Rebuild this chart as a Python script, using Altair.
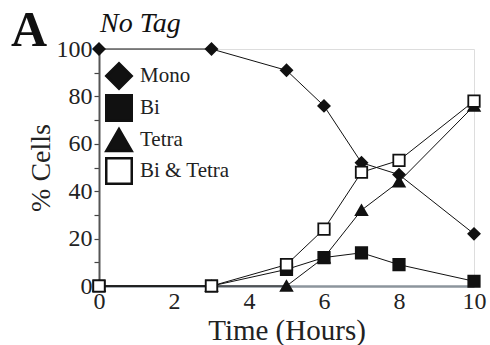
import altair as alt
import pandas as pd

# ---- data ----
hours = [0, 3, 5, 6, 7, 8, 10]
mono = [100, 100, 91, 76, 52, 47, 22]
bi = [0, 0, 7, 12, 14, 9, 2]
tetra = [0, 0, 0, 12, 32, 44, 76]
bi_tetra = [0, 0, 9, 24, 48, 53, 78]
series_names = ["Mono", "Bi", "Tetra", "Bi & Tetra"]
x_ticks = [0, 2, 4, 6, 8, 10]
y_ticks = [0, 10, 20, 30, 40, 50, 60, 70, 80, 90, 100]

rows = []
for name, vals in zip(series_names, [mono, bi, tetra, bi_tetra]):
    for h, v in zip(hours, vals):
        rows.append({"Time": h, "Pct": v, "Series": name, "order": series_names.index(name)})
df = pd.DataFrame(rows)

FONT = "Liberation Serif, 'Times New Roman', 'DejaVu Serif', serif"
GRAY = "#8c959c"

x_enc = alt.X("Time:Q", scale=alt.Scale(domain=[0, 10], nice=False, zero=False),
              axis=alt.Axis(values=x_ticks, title="Time (Hours)", grid=False, ticks=False,
                            domainColor=GRAY, domainWidth=2.5, labelFontSize=24,
                            labelPadding=3, labelFont=FONT, titleFont=FONT,
                            titleFontSize=29, titleFontWeight="normal", titlePadding=3,
                            labelColor="#222", titleColor="#222", labelFlush=False))
y_enc = alt.Y("Pct:Q", scale=alt.Scale(domain=[0, 100], nice=False),
              axis=alt.Axis(values=y_ticks, title="% Cells", grid=False,
                            labelExpr="datum.value % 20 == 0 ? datum.label : ''",
                            tickSize=5, tickColor="#444", tickWidth=1.2,
                            domainColor="#555", domainWidth=2, labelFontSize=24,
                            labelPadding=2, labelFont=FONT, titleFont=FONT,
                            titleFontSize=28, titleFontWeight="normal", titlePadding=1,
                            labelColor="#222", titleColor="#222", labelFlush=False))

lines = alt.Chart(df).mark_line(color="#111", strokeWidth=1).encode(
    x=x_enc, y=y_enc, detail="Series:N", order="Time:Q"
)

legend = alt.Legend(title=None, orient="none", legendX=6, legendY=13,
                    symbolSize=650, symbolStrokeWidth=2.5,
                    labelFont=FONT, labelFontSize=21, labelColor="#222",
                    labelOffset=7, rowPadding=-4, padding=0)

points = alt.Chart(df).mark_point(filled=True, stroke="#111", strokeWidth=1.8,
                                  opacity=1, size=130).encode(
    x=x_enc, y=y_enc,
    shape=alt.Shape("Series:N",
                    scale=alt.Scale(domain=series_names,
                                    range=["diamond", "square", "triangle-up", "square"]),
                    legend=legend),
    fill=alt.Fill("Series:N",
                  scale=alt.Scale(domain=series_names,
                                  range=["#111", "#111", "#111", "white"]),
                  legend=legend),
    order=alt.Order("order:Q"),
)

label_a = alt.Chart(pd.DataFrame({"t": ["A"]})).mark_text(
    font=FONT, fontSize=50, fontWeight="bold", align="left", baseline="alphabetic", color="#111"
).encode(text="t:N", x=alt.value(-88), y=alt.value(-3))

label_tag = alt.Chart(pd.DataFrame({"t": ["No Tag"]})).mark_text(
    font=FONT, fontSize=28, fontStyle="italic", align="left", baseline="alphabetic", color="#111"
).encode(text="t:N", x=alt.value(1), y=alt.value(-17))

chart = alt.layer(lines, points, label_a, label_tag).properties(
    width=375, height=237,
    autosize=alt.AutoSizeParams(type="none"),
    padding={"left": 99, "top": 49, "right": 16, "bottom": 59},
).configure_view(stroke=GRAY, strokeWidth=3).configure(background="white")

chart.save("out.html", embed_options={"renderer": "svg", "actions": False})
